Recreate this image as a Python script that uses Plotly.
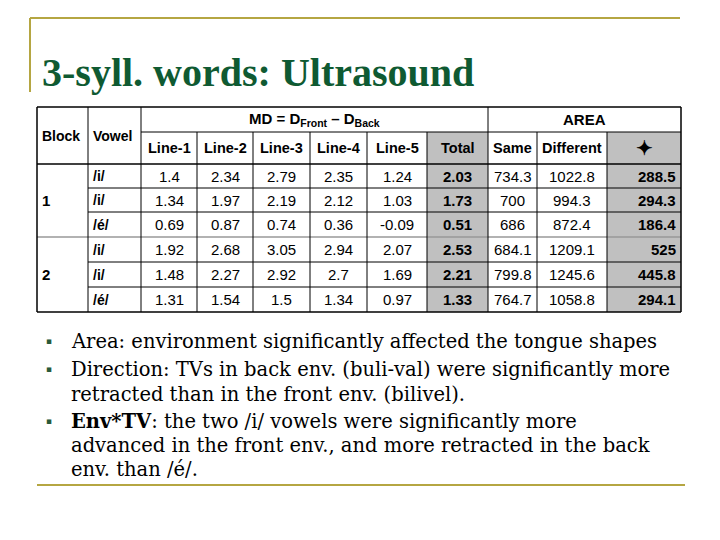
import plotly.graph_objects as go

# table data
blocks = ["1", "2"]
vowels = ["/i/", "/i/", "/é/", "/i/", "/i/", "/é/"]
line_1 = ["1.4", "1.34", "0.69", "1.92", "1.48", "1.31"]
line_2 = ["2.34", "1.97", "0.87", "2.68", "2.27", "1.54"]
line_3 = ["2.79", "2.19", "0.74", "3.05", "2.92", "1.5"]
line_4 = ["2.35", "2.12", "0.36", "2.94", "2.7", "1.34"]
line_5 = ["1.24", "1.03", "-0.09", "2.07", "1.69", "0.97"]
total = ["2.03", "1.73", "0.51", "2.53", "2.21", "1.33"]
area_same = ["734.3", "700", "686", "684.1", "799.8", "764.7"]
area_diff = ["1022.8", "994.3", "872.4", "1209.1", "1245.6", "1058.8"]
area_delta = ["288.5", "294.3", "186.4", "525", "445.8", "294.1"]
sub_headers = ["Line-1", "Line-2", "Line-3", "Line-4", "Line-5", "Total", "Same", "Different", "✦"]

bullets = [
    ["Area: environment significantly affected the tongue shapes"],
    ["Direction: TVs in back env. (buli-val) were significantly more",
     "retracted than in the front env. (bilivel)."],
    ["<b>Env*TV</b>: the two /i/ vowels were significantly more",
     "advanced in the front env., and more retracted in the back",
     "env. than /é/."],
]

# layout (pixel coordinates on a hidden axis; page body adds an 8px margin)
col_x = [37, 88, 141, 197, 253, 310, 367, 427, 488, 537, 607, 681]
row_y = [107, 132, 164, 188, 212, 237, 262, 287, 312]
grey_cols = [7, 10]
GREY = "#c0c0c0"
OLIVE = "#b5a642"
SANS = "Liberation Sans, Arial"
SERIF = "Liberation Serif, Times New Roman"

fig = go.Figure()
shapes = []
ann = []

for c in grey_cols:
    shapes.append(dict(type="rect", x0=col_x[c], x1=col_x[c + 1], y0=row_y[1], y1=row_y[-1],
                       fillcolor=GREY, line_width=0, layer="below"))

def hline(x0, x1, y, w=1, color="black"):
    shapes.append(dict(type="line", x0=x0, x1=x1, y0=y, y1=y, line=dict(color=color, width=w)))

def vline(x, y0, y1, w=1, color="black"):
    shapes.append(dict(type="line", x0=x, x1=x, y0=y0, y1=y1, line=dict(color=color, width=w)))

# borders
hline(col_x[0], col_x[-1], row_y[0], 1.5)
hline(col_x[0], col_x[-1], row_y[-1], 1.5)
hline(col_x[2], col_x[-1], row_y[1])
hline(col_x[0], col_x[-1], row_y[2], 1.5)
for i in range(3, len(row_y) - 1):
    if i == 5:
        hline(col_x[0], col_x[-1], row_y[i], 1.5, "#999999")
    else:
        hline(col_x[1], col_x[-1], row_y[i])
for i, x in enumerate(col_x):
    if i in (0, 1, 2, 8, len(col_x) - 1):
        vline(x, row_y[0], row_y[-1], 1.5 if i in (0, len(col_x) - 1) else 1)
    else:
        vline(x, row_y[1], row_y[-1])

def cell(text, c, r0, r1, align="center", bold=False, size=15):
    if align == "center":
        x = (col_x[c] + col_x[c + 1]) / 2
    elif align == "left":
        x = col_x[c] + 3
    else:
        x = col_x[c + 1] - 3
    y = (row_y[r0] + row_y[r1]) / 2
    ann.append(dict(x=x, y=y, text=f"<b>{text}</b>" if bold else text, showarrow=False,
                    xanchor=align, yanchor="middle",
                    font=dict(family=SANS, size=size, color="black")))

cell("Block", 0, 0, 2, "left", True, 14)
cell("Vowel", 1, 0, 2, "left", True, 14)
ann.append(dict(x=(col_x[2] + col_x[8]) / 2, y=(row_y[0] + row_y[1]) / 2,
                text="<b>MD = D<sub>Front</sub> – D<sub>Back</sub></b>", showarrow=False,
                font=dict(family=SANS, size=15, color="black")))
ann.append(dict(x=(col_x[8] + col_x[-1]) / 2, y=(row_y[0] + row_y[1]) / 2,
                text="<b>AREA</b>", showarrow=False,
                font=dict(family=SANS, size=15, color="black")))
for j, h in enumerate(sub_headers):
    cell(h, j + 2, 1, 2, "center", True, 20 if h == "✦" else 14.5)

for b, name in enumerate(blocks):
    cell(name, 0, 2 + 3 * b, 5 + 3 * b, "left", True)

cols = [line_1, line_2, line_3, line_4, line_5, total, area_same, area_diff, area_delta]
for r in range(len(vowels)):
    cell(vowels[r], 1, r + 2, r + 3, "left", True, 14)
    for j, col in enumerate(cols):
        c = j + 2
        cell(col[r], c, r + 2, r + 3, "right" if c == 10 else "center", c in grey_cols)

# slide decoration
hline(30, 680, 18, 2, OLIVE)
vline(30, 18, 92, 2, OLIVE)
hline(37, 685, 485, 2, OLIVE)
ann.append(dict(x=40, y=72, text="<b>3-syll. words: Ultrasound</b>", showarrow=False,
                xanchor="left", yanchor="middle",
                font=dict(family=SERIF, size=40, color="#0f5a32")))

line_y = [[341], [369, 394], [421, 445, 469]]
for ys, lines in zip(line_y, bullets):
    ann.append(dict(x=44, y=ys[0], text="▪", showarrow=False, xanchor="left", yanchor="middle",
                    font=dict(family="DejaVu Sans", size=9, color="#2a5a3a")))
    for y, t in zip(ys, lines):
        ann.append(dict(x=69, y=y, text=t, showarrow=False, xanchor="left", yanchor="middle",
                        font=dict(family="DejaVu Serif", size=19.5, color="black")))

fig.update_layout(
    width=720, height=540, margin=dict(l=0, r=0, t=0, b=0),
    plot_bgcolor="white", paper_bgcolor="white",
    xaxis=dict(range=[8, 728], visible=False, fixedrange=True),
    yaxis=dict(range=[548, 8], visible=False, fixedrange=True),
    shapes=shapes, annotations=ann, showlegend=False,
)
fig.write_html("out.html")
